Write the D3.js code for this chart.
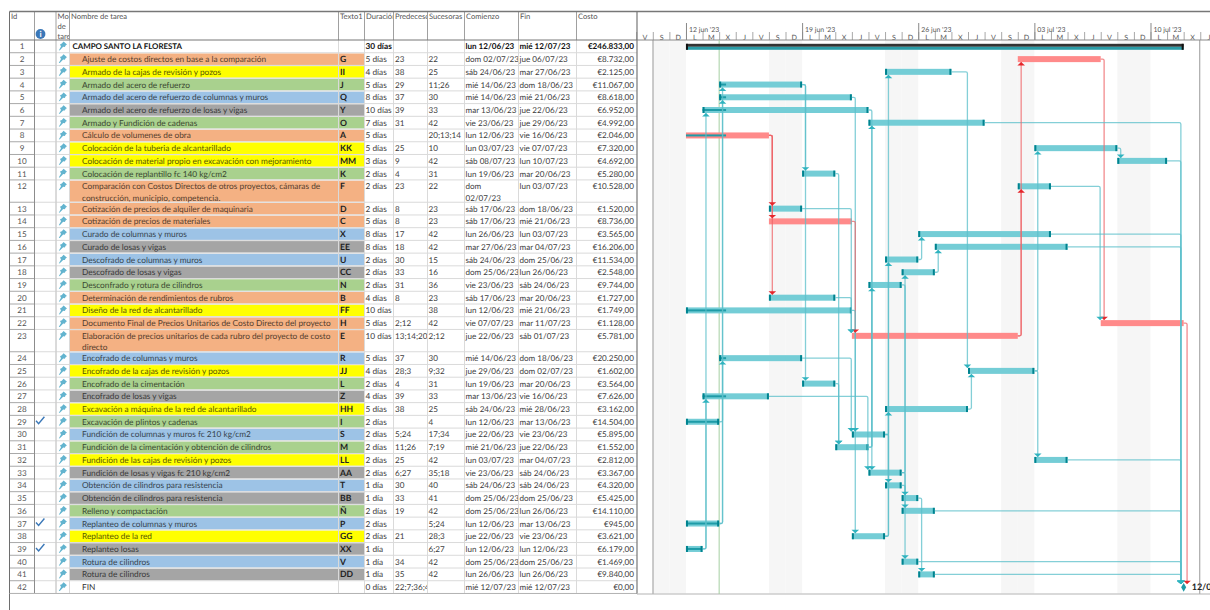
<!DOCTYPE html>
<html>
<head>
<meta charset="utf-8">
<title>Campo Santo La Floresta</title>
<script src="https://cdn.jsdelivr.net/npm/d3@7"></script>
<style>
  html, body { margin: 0; padding: 0; background: #fff; overflow: hidden; }
  svg text { font-family: Lato, "Open Sans", sans-serif; text-rendering: geometricPrecision; }
</style>
</head>
<body>
<svg id="chart" width="1210" height="610"></svg>
<script>
const taskNames = [
  "CAMPO SANTO LA FLORESTA",
  "Ajuste de costos directos en base a la comparación",
  "Armado de la cajas de revisión y pozos",
  "Armado del acero de refuerzo",
  "Armado del acero de refuerzo de columnas y muros",
  "Armado del acero de refuerzo de losas y vigas",
  "Armado y Fundición de cadenas",
  "Cálculo de volumenes de obra",
  "Colocación de la tuberia de alcantarillado",
  "Colocación de material propio en excavación con mejoramiento",
  "Colocación de replantillo fc 140 kg/cm2",
  "Comparación con Costos Directos de otros proyectos, cámaras de|construcción, municipio, competencia.",
  "Cotización de precios de alquiler de maquinaria",
  "Cotización de precios de materiales",
  "Curado de columnas y muros",
  "Curado de losas y vigas",
  "Descofrado de columnas y muros",
  "Descofrado de losas y vigas",
  "Desconfrado y rotura de cilindros",
  "Determinación de rendimientos de rubros",
  "Diseño de la red de alcantarillado",
  "Documento Final de Precios Unitarios de Costo Directo del proyecto",
  "Elaboración de precios unitarios de cada rubro del proyecto de costo|directo",
  "Encofrado de columnas y muros",
  "Encofrado de la cajas de revisión y pozos",
  "Encofrado de la cimentación",
  "Encofrado de losas y vigas",
  "Excavación a máquina de la red de alcantarillado",
  "Excavación de plintos y cadenas",
  "Fundición de columnas y muros fc 210 kg/cm2",
  "Fundición de la cimentación y obtención de cilindros",
  "Fundición de las cajas de revisión y pozos",
  "Fundición de losas y vigas fc 210 kg/cm2",
  "Obtención de cilindros para resistencia",
  "Obtención de cilindros para resistencia",
  "Relleno y compactación",
  "Replanteo de columnas y muros",
  "Replanteo de la red",
  "Replanteo losas",
  "Rotura de cilindros",
  "Rotura de cilindros",
  "FIN"
];
const codes = ["","G","II","J","Q","Y","O","A","KK","MM","K","F","D","C","X","EE","U","CC","N","B","FF","H","E","R","JJ","L","Z","HH","I","S","M","LL","AA","T","BB","Ñ","P","GG","XX","V","DD",""];
const durations = ["30 días","5 días","4 días","5 días","8 días","10 días","7 días","5 días","5 días","3 días","2 días","2 días","2 días","5 días","8 días","8 días","2 días","2 días","2 días","4 días","10 días","5 días","10 días","5 días","4 días","2 días","4 días","5 días","2 días","2 días","2 días","2 días","2 días","1 día","1 día","2 días","2 días","2 días","1 día","1 día","1 día","0 días"];
// the last entry is cut by its column in the picture, so it stays as shown
const predecessors = ["","23","38","29","37","39","31","","25","9","4","23","8","8","17","18","30","33","31","8","","2;12","13;14;20","37","28;3","4","39","38","","5;24","11;26","25","6;27","30","33","19","","21","","34","35","22;7;36;4"];
const successors = ["","22","25","11;26","30","33","42","20;13;14","10","42","31","22","23","23","42","42","15","16","36","23","38","42","2;12","30","9;32","31","33","25","4","17;34","7;19","42","35;18","40","41","42","5;24","28;3","6;27","42","42",""];
const startDates = ["lun 12/06/23","dom 02/07/23","sáb 24/06/23","mié 14/06/23","mié 14/06/23","mar 13/06/23","vie 23/06/23","lun 12/06/23","lun 03/07/23","sáb 08/07/23","lun 19/06/23","dom 02/07/23","sáb 17/06/23","sáb 17/06/23","lun 26/06/23","mar 27/06/23","sáb 24/06/23","dom 25/06/23","vie 23/06/23","sáb 17/06/23","lun 12/06/23","vie 07/07/23","jue 22/06/23","mié 14/06/23","jue 29/06/23","lun 19/06/23","mar 13/06/23","sáb 24/06/23","lun 12/06/23","jue 22/06/23","mié 21/06/23","lun 03/07/23","vie 23/06/23","sáb 24/06/23","dom 25/06/23","dom 25/06/23","lun 12/06/23","jue 22/06/23","lun 12/06/23","dom 25/06/23","lun 26/06/23","mié 12/07/23"];
const endDates = ["mié 12/07/23","jue 06/07/23","mar 27/06/23","dom 18/06/23","mié 21/06/23","jue 22/06/23","jue 29/06/23","vie 16/06/23","vie 07/07/23","lun 10/07/23","mar 20/06/23","lun 03/07/23","dom 18/06/23","mié 21/06/23","lun 03/07/23","mar 04/07/23","dom 25/06/23","lun 26/06/23","sáb 24/06/23","mar 20/06/23","mié 21/06/23","mar 11/07/23","sáb 01/07/23","dom 18/06/23","dom 02/07/23","mar 20/06/23","vie 16/06/23","mié 28/06/23","mar 13/06/23","vie 23/06/23","jue 22/06/23","mar 04/07/23","sáb 24/06/23","sáb 24/06/23","dom 25/06/23","lun 26/06/23","mar 13/06/23","vie 23/06/23","lun 12/06/23","dom 25/06/23","lun 26/06/23","mié 12/07/23"];
const costs = ["€246.833,00","€8.732,00","€2.125,00","€11.067,00","€8.618,00","€6.952,00","€4.992,00","€2.046,00","€7.320,00","€4.692,00","€5.280,00","€10.528,00","€1.520,00","€8.736,00","€3.565,00","€16.206,00","€11.534,00","€2.548,00","€9.744,00","€1.727,00","€1.749,00","€1.128,00","€5.781,00","€20.250,00","€1.602,00","€3.564,00","€7.626,00","€3.162,00","€14.504,00","€5.895,00","€1.552,00","€2.812,00","€3.367,00","€4.320,00","€5.425,00","€14.110,00","€945,00","€3.621,00","€6.179,00","€1.469,00","€9.840,00","€0,00"];
// work package of each row: o costs, y sewer, g foundations, b columns, s slabs, w none
const packages = "woygbsgoyygooobsbsgoyoobygsygbgysbsgbysbsw".split("");
const doneIds = [29, 37, 39];
const criticalIds = [2, 8, 14, 22, 23];
// narrow headers stay cut the way the picture shows them
const columnTitles = ["Id","","Mo|de|tare","Nombre de tarea","Texto1","Duración","Predeceso","Sucesoras","Comienzo","Fin","Costo"];
const dayLetters = ["D","L","M","X","J","V","S"];
const weekLabels = ["12 jun '23","19 jun '23","26 jun '23","03 jul '23","10 jul '23"];
const statusDate = "14/06/23";
const progressDate = "14/06/23 10";

// ---- layout ----
const W = 1210, H = 610;
const TOP = 11.5, HEAD = 40, PITCH = 12.72, LINE = 9.6, BOTTOM = 593.5;
const FS = 8.3, FS_NUM = 8.1, FS_CODE = 8.6, FS_TITLE = 7.9;
const colEdges = [9.5, 34.5, 56, 69.5, 338.5, 364.5, 393.5, 427.5, 464.5, 518.5, 576.5, 637];
const packageFill = { o: "#F4B183", y: "#FFFF00", g: "#A9D18E", b: "#9DC3E6", s: "#A5A5A5", w: "#FFFFFF" };
const TEAL = "#74CDD6", TEAL_DARK = "#00838F", TEAL_LINE = "#5BBFCA", PINK = "#FF8A8A", RED_LINE = "#EE6468";

const parseDay = d3.timeParse("%d/%m/%y");
const day = s => parseDay(s.split(" ").pop());
const parseHour = d3.timeParse("%d/%m/%y %H");

const x = d3.scaleTime()
  .domain([parseDay("09/06/23"), parseDay("14/07/23")])
  .range([636.2, 636.2 + 35 * 16.59]);

const ids = taskNames.map((_, i) => i + 1);
const rowExtra = taskNames.map(n => n.includes("|") ? LINE : 0);
const rowTops = ids.map((_, i) => HEAD + i * PITCH + d3.sum(rowExtra.slice(0, i)));
const y = d3.scaleOrdinal(ids, rowTops);
const rowH = id => PITCH + rowExtra[id - 1];
const barY = id => y(id) + 6.4;

const tasks = ids.map((id, i) => {
  const milestone = durations[i].startsWith("0 ");
  const summary = id === 1;
  const start = day(startDates[i]);
  // the project closes at the start of its finish date, ordinary tasks run through theirs
  const end = milestone || summary ? day(endDates[i]) : d3.timeDay.offset(day(endDates[i]), 1);
  return { id, start, end, milestone, summary,
    critical: criticalIds.includes(id),
    fill: packageFill[packages[i]] };
});

const svg = d3.select("#chart");
const defs = svg.append("defs");
colEdges.slice(0, -1).forEach((e, i) => {
  defs.append("clipPath").attr("id", `col${i}`)
    .append("rect").attr("x", e).attr("y", TOP).attr("width", colEdges[i + 1] - e).attr("height", BOTTOM - TOP);
});

// ---- timescale and background of the gantt ----
const gGantt = svg.append("g");
const weekends = d3.timeDay.range(parseDay("10/06/23"), parseDay("14/07/23"))
  .filter(d => d.getDay() === 6 || d.getDay() === 0);
gGantt.selectAll("rect.weekend").data(weekends).join("rect")
  .attr("class", "weekend")
  .attr("x", d => x(d))
  .attr("y", HEAD)
  .attr("width", d => x(d3.timeDay.offset(d, 1)) - x(d))
  .attr("height", BOTTOM - HEAD)
  .attr("fill", "#F6F6F6");

const days = d3.timeDay.range(parseDay("09/06/23"), parseDay("14/07/23"));
const weeks = d3.timeMonday.range(parseDay("12/06/23"), parseDay("14/07/23"));

const dayTicks = svg.append("g").attr("transform", `translate(0,${HEAD})`)
  .call(d3.axisTop(x).tickValues(days).tickSize(8).tickFormat(""));
dayTicks.select(".domain").remove();
dayTicks.selectAll("line").attr("stroke", "#a8a8a8");

const midDay = d => d3.timeHour.offset(d, 12);
const dayAxis = svg.append("g").attr("transform", `translate(0,${HEAD})`)
  .call(d3.axisTop(x).tickValues(days.map(midDay)).tickSize(0).tickPadding(0.5)
    .tickFormat(d => dayLetters[d.getDay()]));
dayAxis.select(".domain").remove();
dayAxis.selectAll("text").attr("font-size", 7.2).attr("fill", "#555")
  .style("font-family", "Lato, sans-serif");

const weekAxis = svg.append("g").attr("transform", `translate(0,${HEAD})`)
  .call(d3.axisTop(x).tickValues(weeks).tickSize(17).tickFormat(""));
weekAxis.select(".domain").remove();
weekAxis.selectAll("line").attr("stroke", "#888");
svg.append("g").selectAll("text").data(weeks).join("text")
  .attr("x", d => x(d) + 3)
  .attr("y", 31.5)
  .attr("font-size", 6.9)
  .attr("fill", "#555")
  .text((d, i) => weekLabels[i]);

const frameLine = (x1, y1, x2, y2, color, width = 1) => svg.append("line")
  .attr("x1", x1).attr("y1", y1).attr("x2", x2).attr("y2", y2)
  .attr("stroke", color).attr("stroke-width", width);

frameLine(653, HEAD, 653, 594, "#999");
frameLine(x(parseDay("13/07/23")) - 0.5, HEAD, x(parseDay("13/07/23")) - 0.5, 594, "#999");
frameLine(637, HEAD, W, HEAD, "#8a8a8a");
frameLine(637, 594, W, 594, "#b4b4b4", 1.2);
frameLine(x(parseDay(statusDate)), HEAD, x(parseDay(statusDate)), 594, "#A6CFA2");

// ---- table ----
const gTable = svg.append("g");

gTable.selectAll("rect.name").data(tasks).join("rect")
  .attr("class", "name")
  .attr("x", colEdges[3])
  .attr("y", d => y(d.id) + 0.7)
  .attr("width", colEdges[5] - colEdges[3])
  .attr("height", d => rowH(d.id) - 1.2)
  .attr("fill", d => d.fill);

gTable.selectAll("line.row").data(tasks).join("line")
  .attr("class", "row")
  .attr("x1", colEdges[1]).attr("x2", colEdges[11])
  .attr("y1", d => y(d.id) + rowH(d.id)).attr("y2", d => y(d.id) + rowH(d.id))
  .attr("stroke", "#DADADA");
gTable.selectAll("line.idrow").data(tasks).join("line")
  .attr("class", "idrow")
  .attr("x1", colEdges[0]).attr("x2", colEdges[1])
  .attr("y1", d => y(d.id) + rowH(d.id)).attr("y2", d => y(d.id) + rowH(d.id))
  .attr("stroke", "#A8A8A8");

colEdges.slice(2, -1).forEach(e => frameLine(e, HEAD, e, BOTTOM, "#DADADA"));
colEdges.slice(1, -1).forEach(e => frameLine(e, TOP, e, HEAD, "#A0A0A0"));
frameLine(colEdges[1], HEAD, colEdges[1], BOTTOM, "#8c8c8c");
frameLine(colEdges[2], HEAD, colEdges[2], BOTTOM, "#C8C8C8");
frameLine(colEdges[0], TOP, colEdges[0], H, "#6e6e6e");
frameLine(colEdges[0], TOP, W, TOP, "#777", 1.4);
frameLine(colEdges[0], HEAD, colEdges[11], HEAD, "#777");
frameLine(colEdges[0], BOTTOM, colEdges[11], BOTTOM, "#B4B4B4", 1.2);
frameLine(colEdges[11], TOP, colEdges[11], BOTTOM, "#777", 1.2);

// header
columnTitles.forEach((t, i) => {
  t.split("|").forEach((part, k) => {
    gTable.append("text")
      .attr("x", colEdges[i] + 1.5)
      .attr("y", 19 + k * 9.8)
      .attr("font-size", 7.6)
      .attr("fill", "#555")
      .attr("clip-path", `url(#col${i})`)
      .text(part);
  });
});
const info = gTable.append("g").attr("transform", "translate(40.5,34)");
info.append("circle").attr("r", 4.9).attr("fill", "#3B78B8");
info.append("text").attr("y", 3.2).attr("text-anchor", "middle")
  .attr("font-size", 8.5).attr("font-weight", 700).attr("fill", "#fff").text("i");

const cell = (cls, col, value, xPos, opts = {}) => gTable.selectAll(`text.${cls}`).data(tasks).join("text")
  .attr("class", cls)
  .attr("x", xPos)
  .attr("y", d => y(d.id) + 9.4)
  .attr("font-size", opts.size || FS_NUM)
  .attr("font-weight", d => (d.summary && !opts.plain) || opts.bold ? 700 : 400)
  .attr("text-anchor", opts.anchor || "start")
  .attr("fill", d => d.summary && !opts.plain ? "#111" : (opts.fill ? opts.fill(d) : "#404040"))
  .attr("clip-path", `url(#col${col})`)
  .text(value);

cell("idtext", 0, d => d.id, (colEdges[0] + colEdges[1]) / 2, { anchor: "middle", plain: true, fill: () => "#555" });
cell("code", 4, d => codes[d.id - 1], colEdges[4] + 1.5, { bold: true, size: FS_CODE, fill: () => "#222" });
cell("dur", 5, d => durations[d.id - 1], colEdges[5] + 1, { size: FS });
cell("pred", 6, d => predecessors[d.id - 1], colEdges[6] + 1.5);
cell("succ", 7, d => successors[d.id - 1], colEdges[7] + 1);
cell("fin", 9, d => endDates[d.id - 1], colEdges[9] + 1);
cell("cost", 10, d => costs[d.id - 1], colEdges[11] - 3, { anchor: "end" });

// the start column wraps on the one row where it does not fit
tasks.forEach(t => {
  const label = startDates[t.id - 1];
  const wrapped = t.id === 12 ? label.split(" ") : [label];
  wrapped.forEach((part, k) => {
    gTable.append("text")
      .attr("x", colEdges[8] + 1)
      .attr("y", y(t.id) + 9.4 + k * 11.4)
      .attr("font-size", FS_NUM)
      .attr("font-weight", t.summary ? 700 : 400)
      .attr("fill", t.summary ? "#111" : "#404040")
      .attr("clip-path", "url(#col8)")
      .text(part);
  });
});

// task names, two lines where the name carries a break
tasks.forEach(t => {
  const dark = t.fill === "#FFFFFF" ? "#333" : d3.rgb(t.fill).darker(3).formatHex();
  taskNames[t.id - 1].split("|").forEach((part, k) => {
    gTable.append("text")
      .attr("x", t.summary ? colEdges[3] + 3 : colEdges[3] + 12.5)
      .attr("y", y(t.id) + 9.4 + k * 11.4)
      .attr("font-size", t.summary ? FS_TITLE : FS)
      .attr("font-weight", t.summary ? 700 : 400)
      .attr("fill", t.summary ? "#111" : dark)
      .attr("clip-path", "url(#col3)")
      .text(part);
  });
});

// task mode pins and done checks
const pinPath = "M1.2,-4.2 L4.6,-1.2 L3.4,-0.6 L2.4,1.2 L0.8,1 L-2.6,4.4 L-3.6,4.6 L-1.4,0.6 L-2.4,-1.4 L-0.6,-2.2 Z";
gTable.selectAll("path.pin").data(tasks).join("path")
  .attr("class", "pin")
  .attr("transform", d => `translate(62.4,${y(d.id) + 5.8})`)
  .attr("d", pinPath)
  .attr("fill", "#63B4CF");
gTable.selectAll("path.check").data(doneIds).join("path")
  .attr("class", "check")
  .attr("transform", d => `translate(40,${y(d) + 5.4})`)
  .attr("d", "M-4,0 L-1.4,3 L4.4,-4")
  .attr("fill", "none")
  .attr("stroke", "#3B78B8")
  .attr("stroke-width", 1.4);

// ---- bars ----
const gBars = svg.append("g");
const plain = tasks.filter(t => !t.summary && !t.milestone);

gBars.selectAll("rect.bar").data(plain).join("rect")
  .attr("class", "bar")
  .attr("x", d => x(d.start))
  .attr("y", d => barY(d.id) - 3)
  .attr("width", d => x(d.end) - x(d.start))
  .attr("height", 6)
  .attr("fill", d => d.critical ? PINK : TEAL);

// progress stripe up to the last reported hour
const progressTo = parseHour(progressDate);
const started = plain.filter(t => t.start < progressTo);
gBars.selectAll("rect.progress").data(started).join("rect")
  .attr("class", "progress")
  .attr("x", d => x(d.start))
  .attr("y", d => barY(d.id) - 1)
  .attr("width", d => x(d3.min([d.end, progressTo])) - x(d.start))
  .attr("height", 2)
  .attr("fill", "#1E9BA7");

// dark end caps on the ordinary bars
const capped = plain.filter(t => !t.critical);
[["capL", d => x(d.start)], ["capR", d => x(d.end) - 2]].forEach(([cls, fx]) => {
  gBars.selectAll(`rect.${cls}`).data(capped).join("rect")
    .attr("class", cls)
    .attr("x", fx)
    .attr("y", d => barY(d.id) - 3)
    .attr("width", 2)
    .attr("height", 6)
    .attr("fill", TEAL_DARK);
});

// summary bar
const sum = tasks[0];
gBars.append("rect").attr("x", x(sum.start)).attr("y", barY(1) - 2.6)
  .attr("width", x(sum.end) - x(sum.start)).attr("height", 3).attr("fill", "#333");
gBars.append("rect").attr("x", x(sum.start)).attr("y", barY(1) + 0.4)
  .attr("width", x(sum.end) - x(sum.start)).attr("height", 3).attr("fill", "#2A9BA6");
[x(sum.start), x(sum.end) - 2].forEach(px => {
  gBars.append("rect").attr("x", px).attr("y", barY(1) - 2.6)
    .attr("width", 2).attr("height", 6).attr("fill", "#111");
});

// ---- finish-to-start links, taken from the successors column ----
const links = tasks.flatMap(t => successors[t.id - 1].split(";").filter(Boolean)
  .map(s => ({ from: t, to: tasks[+s - 1] })));

function linkX(l) {
  const touching = +l.from.end === +l.to.start;
  if (touching) return x(l.to.start) + 3.4;
  return x(l.to.start) - (l.to.milestone ? 2.8 : 0.6);
}

function linkPath(l) {
  const vx = linkX(l);
  const x0 = x(l.from.end);
  const y0 = barY(l.from.id);
  const down = l.to.id > l.from.id;
  const y1 = barY(l.to.id) + (down ? -3 : 3);
  const dir = down ? 1 : -1;
  const p = d3.path();
  p.moveTo(x0, y0);
  p.lineTo(vx - 1.5, y0);
  p.quadraticCurveTo(vx, y0, vx, y0 + dir * 1.5);
  p.lineTo(vx, y1);
  return p.toString();
}

const linkColor = l => l.from.critical ? RED_LINE : TEAL_LINE;

const gLinks = svg.append("g");
gLinks.selectAll("path.link").data(links).join("path")
  .attr("class", "link")
  .attr("d", linkPath)
  .attr("fill", "none")
  .attr("stroke", linkColor)
  .attr("stroke-width", 1.3)
  .attr("opacity", 0.75);

gLinks.selectAll("path.arrow").data(links).join("path")
  .attr("class", "arrow")
  .attr("transform", l => {
    const down = l.to.id > l.from.id;
    const ty = barY(l.to.id) + (down ? -3 : 3);
    return `translate(${linkX(l)},${ty}) scale(1,${down ? 1 : -1})`;
  })
  .attr("d", "M-3.8,-3.4 L3.8,-3.4 L0,0 Z")
  .attr("fill", l => l.from.critical ? "#E5262B" : "#2FB3BF");

// ---- FIN milestone ----
const fin = tasks[41];
svg.append("path")
  .attr("transform", `translate(${x(fin.start)},${barY(42) + 0.2})`)
  .attr("d", d3.symbol(d3.symbolDiamond, 22))
  .attr("fill", "#1E9BA7");
svg.append("text")
  .attr("x", x(fin.start) + 8)
  .attr("y", barY(42) + 3)
  .attr("font-size", 9)
  .attr("font-weight", 700)
  .attr("fill", "#222")
  .text("12/07");
</script>
</body>
</html>
